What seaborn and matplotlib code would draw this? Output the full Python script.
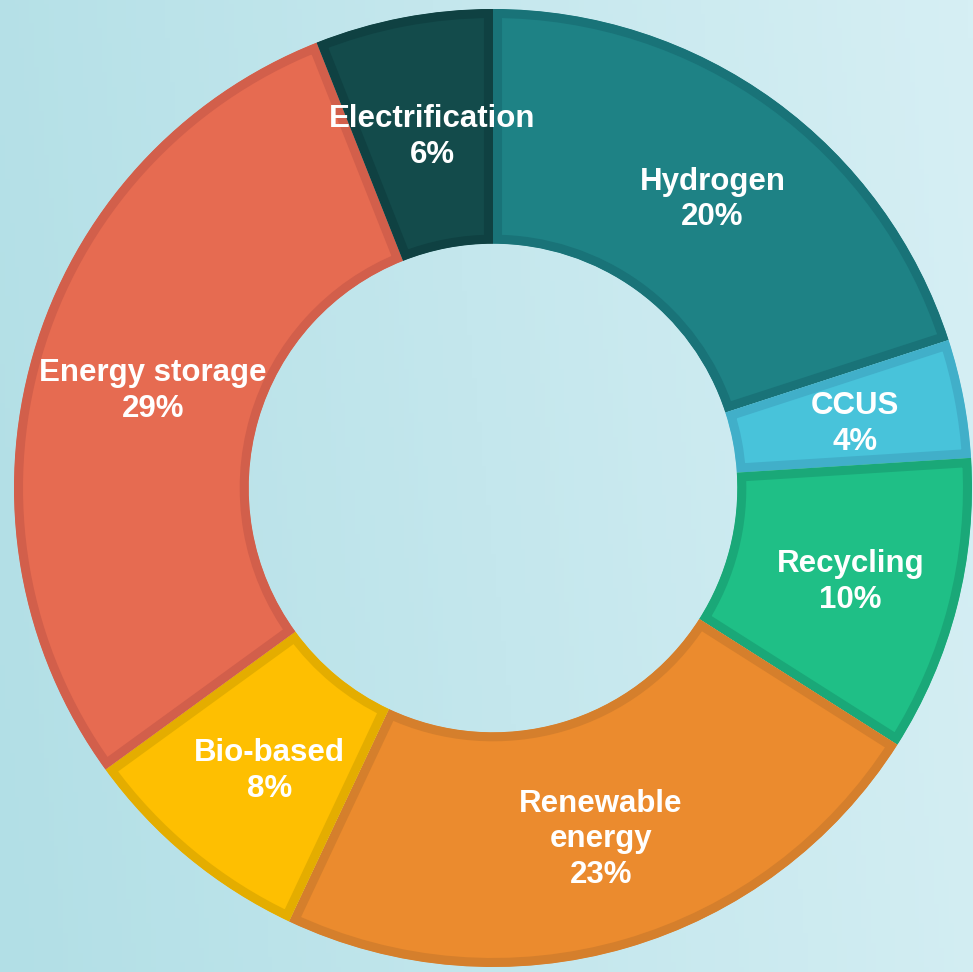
import numpy as np
import matplotlib
matplotlib.use("Agg")
import matplotlib.pyplot as plt
import seaborn as sns
from matplotlib.colors import LinearSegmentedColormap

# Data (clockwise from 12 o'clock)
labels = ["Hydrogen", "CCUS", "Recycling", "Renewable\nenergy", "Bio-based",
          "Energy storage", "Electrification"]
shares = [20, 4, 10, 23, 8, 29, 6]
fill_colors = ["#1E8285", "#48C3DA", "#1FBF86", "#EB8B2E", "#FEBF01",
               "#E66B51", "#134B4B"]
edge_colors = ["#197378", "#41AFC9", "#1AA878", "#D57F2C", "#E4AD00",
               "#D25F4B", "#0F4142"]

sns.set_style("white")
plt.rcParams["font.family"] = ["Liberation Sans", "DejaVu Sans"]

W, H = 973, 972
fig = plt.figure(figsize=(W / 100, H / 100), dpi=100)

# background gradient (mostly left -> right)
bg = fig.add_axes([0, 0, 1, 1])
bg.set_axis_off()
cmap = LinearSegmentedColormap.from_list("bgc", ["#B2DFE6", "#D6EFF4"])
gx, gy = np.meshgrid(np.linspace(0, 1, 200), np.linspace(0, 1, 200))
grad = 0.9 * gx + 0.1 * (1 - gy)
bg.imshow(grad, cmap=cmap, extent=[0, 1, 0, 1], origin="upper", aspect="auto")

# donut axes: center (493, 488) px, outer radius 479 px
cx, cy, R = 493, 488, 479
ax = fig.add_axes([(cx - R) / W, (H - cy - R) / H, 2 * R / W, 2 * R / H])
ax.patch.set_alpha(0)

wedges, _ = ax.pie(shares, colors=fill_colors, startangle=90, counterclock=False,
                   radius=1.0, wedgeprops=dict(width=0.49))
ax.set_xlim(-1, 1)
ax.set_ylim(-1, 1)
ax.set_axis_off()

# inner stroke: draw edge twice as wide and clip it to the wedge shape
for w, ec in zip(wedges, edge_colors):
    w.set_edgecolor(ec)
    w.set_linewidth(13)
    w.set_clip_on(True)
    w.set_clip_path(w.get_path(), w.get_transform())

mid_r = 1 - 0.49 / 2
total = sum(shares)
acc = 0
for lab, s in zip(labels, shares):
    ang = np.deg2rad(90 - (acc + s / 2) / total * 360)
    acc += s
    ax.annotate(f"{lab}\n{s}%", (mid_r * np.cos(ang), mid_r * np.sin(ang)),
                xytext=(7, -4), textcoords="offset pixels",
                ha="center", va="center", color="white", fontsize=22.5,
                fontweight="bold", linespacing=1.25)

fig.savefig("out.png", dpi=100)
plt.close(fig)
